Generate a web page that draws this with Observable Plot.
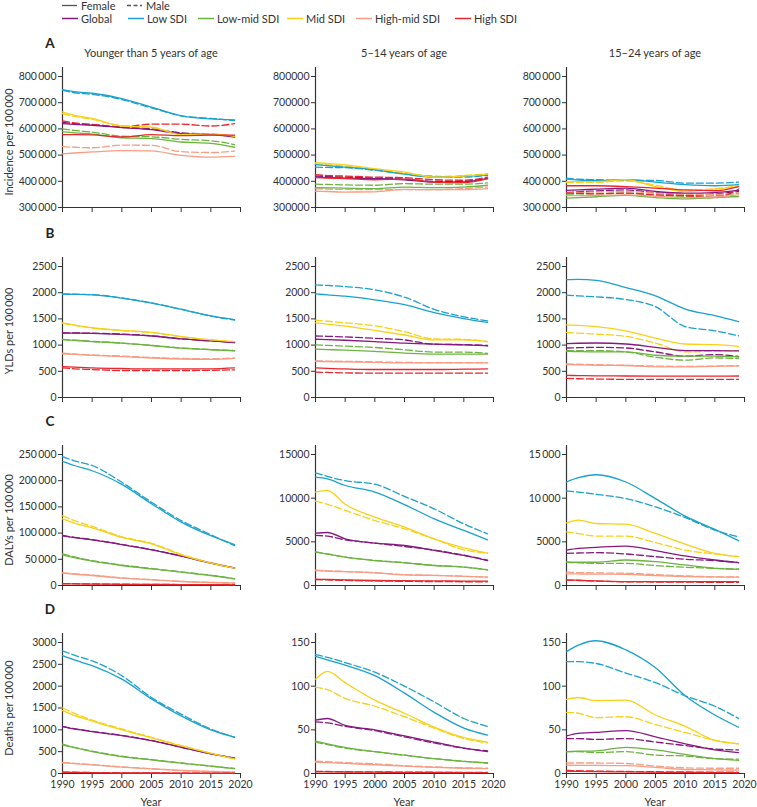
<!DOCTYPE html>
<html><head><meta charset="utf-8">
<script src="https://cdn.jsdelivr.net/npm/d3@7"></script>
<script src="https://cdn.jsdelivr.net/npm/@observablehq/plot@0.6"></script>
<style>
body{margin:0;background:#fff;font-family:Lato,"Noto Sans",sans-serif;color:#333;}
#fig{position:relative;width:757px;height:807px;overflow:hidden;}
.abs{position:absolute;white-space:nowrap;}
.c{transform:translate(-50%,-50%);}
</style></head>
<body><div id="fig"></div>
<script>
const years = [1990,1992,1995,2000,2005,2010,2015,2019];
const groups = ["Global","Low SDI","Low-mid SDI","Mid SDI","High-mid SDI","High SDI"];
const groupColors = ["#86197f","#1aa1cf","#6cb33f","#f7d117","#f79d84","#e8262d"];
const sexes = ["Female","Male"];
const xTicks = [1990,1995,2000,2005,2010,2015,2020];
const ageTitles = ["Younger than 5 years of age","5\u201314 years of age","15\u201324 years of age"];
const measureLabels = ["Incidence per 100\u2009000","YLDs per 100\u2009000","DALYs per 100\u2009000","Deaths per 100\u2009000"];
const panelLetters = ["A","B","C","D"];

// y ticks and labels
const incTicks = [300000,400000,500000,600000,700000,800000];
const incLabelsSp = ["300\u2009000","400\u2009000","500\u2009000","600\u2009000","700\u2009000","800\u2009000"];
const incLabelsNo = ["300000","400000","500000","600000","700000","800000"];
const yldTicks = [0,500,1000,1500,2000,2500];
const yldLabels = ["0","500","1000","1500","2000","2500"];
const dalyU5Ticks = [0,50000,100000,150000,200000,250000];
const dalyU5Labels = ["0","50\u2009000","100\u2009000","150\u2009000","200\u2009000","250\u2009000"];
const dalyTicks = [0,5000,10000,15000];
const dalyLabelsNo = ["0","5000","10000","15000"];
const dalyLabelsSp = ["0","5000","10\u2009000","15\u2009000"];
const deathU5Ticks = [0,500,1000,1500,2000,2500,3000];
const deathU5Labels = ["0","500","1000","1500","2000","2500","3000"];
const deathTicks = [0,50,100,150];
const deathLabels = ["0","50","100","150"];

// Series order: Global, Low, Low-mid, Mid, High-mid, High ; values at `years`
const incU5F = [
 [620000,617000,614000,605000,597000,582000,578000,569000],
 [750000,742000,736000,716000,683000,650000,638000,634000],
 [590000,585000,580000,566000,563000,550000,545000,530000],
 [665000,652000,640000,611000,607000,578000,581000,572000],
 [505000,508000,512000,517000,516000,499000,492000,495000],
 [578000,578000,577000,569000,578000,574000,576000,576000]];
const incU5M = [
 [625000,620000,616000,607000,600000,585000,580000,572000],
 [747000,738000,732000,712000,680000,650000,640000,632000],
 [600000,594000,588000,572000,570000,560000,555000,540000],
 [658000,648000,636000,612000,605000,580000,578000,570000],
 [532000,530000,528000,538000,537000,513000,510000,515000],
 [631000,623000,617000,608000,618000,618000,611000,620000]];
const inc514F = [
 [416000,414000,412000,410000,406000,397000,398000,410000],
 [464000,460000,454000,444000,427000,416000,419000,425000],
 [376000,375000,374000,372000,378000,376000,378000,385000],
 [471000,468000,463000,448000,435000,416000,420000,427000],
 [362000,361000,359000,360000,369000,368000,368000,372000],
 [414000,412000,410000,406000,408000,397000,395000,410000]];
const inc514M = [
 [420000,418000,416000,412000,408000,400000,400000,412000],
 [454000,453000,452000,442000,429000,419000,416000,423000],
 [389000,388000,386000,385000,391000,389000,389000,394000],
 [466000,463000,458000,445000,432000,418000,422000,429000],
 [371000,370000,369000,368000,368000,368000,372000,378000],
 [425000,422000,420000,416000,414000,406000,404000,416000]];
const inc1524F = [
 [365000,367000,370000,374000,361000,355000,357000,365000],
 [408000,405000,403000,406000,397000,387000,383000,387000],
 [336000,338000,341000,346000,338000,333000,338000,342000],
 [399000,399000,399000,406000,380000,361000,370000,380000],
 [345000,345000,346000,348000,343000,338000,340000,348000],
 [383000,383000,383000,380000,374000,367000,364000,380000]];
const inc1524M = [
 [357000,360000,363000,367000,356000,346000,352000,361000],
 [412000,408000,406000,403000,403000,393000,393000,397000],
 [351000,352000,353000,355000,348000,342000,345000,355000],
 [395000,395000,396000,402000,385000,366000,372000,382000],
 [355000,357000,359000,361000,355000,350000,350000,357000],
 [355000,354000,352000,355000,348000,345000,338000,370000]];

const yldU5F = [
 [1231,1228,1225,1206,1174,1118,1080,1049],
 [1972,1968,1960,1897,1802,1683,1557,1488],
 [1105,1090,1068,1036,992,942,911,892],
 [1425,1385,1331,1281,1243,1162,1099,1068],
 [835,822,804,779,754,735,728,747],
 [590,578,565,553,546,546,548,565]];
const yldU5M = [
 [1235,1232,1228,1210,1178,1120,1082,1050],
 [1975,1970,1962,1900,1805,1685,1552,1478],
 [1110,1094,1072,1040,995,945,915,895],
 [1415,1378,1325,1278,1240,1160,1098,1065],
 [845,830,812,790,765,745,738,755],
 [565,548,534,515,515,515,518,528]];
const yld514F = [
 [1112,1105,1093,1068,1036,1017,1005,986],
 [1978,1960,1934,1865,1771,1620,1507,1432],
 [923,915,904,879,848,829,829,829],
 [1425,1400,1363,1281,1193,1099,1099,1068],
 [691,685,680,672,659,659,659,659],
 [565,555,545,534,534,534,540,546]];
const yld514M = [
 [1174,1168,1156,1130,1099,1017,1010,992],
 [2148,2138,2116,2054,1915,1683,1539,1463],
 [1005,995,980,955,911,867,867,842],
 [1476,1455,1425,1369,1256,1118,1110,1068],
 [700,695,690,680,670,665,665,665],
 [484,478,470,465,465,465,465,465]];
const yld1524F = [
 [1027,1035,1040,1021,958,895,895,888],
 [2249,2255,2237,2098,1940,1688,1562,1449],
 [882,876,870,870,806,788,790,775],
 [1386,1375,1354,1273,1134,1021,1008,977],
 [630,622,615,611,586,586,595,599],
 [422,418,414,410,408,408,408,410]];
const yld1524M = [
 [945,950,958,945,870,788,819,782],
 [1953,1940,1921,1871,1733,1354,1273,1178],
 [895,895,895,870,769,712,756,744],
 [1241,1228,1210,1166,1040,870,885,895],
 [643,635,625,615,600,595,600,610],
 [365,358,352,347,347,347,347,347]];

const dalyU5F = [
 [94800,91500,87100,78200,68000,56000,42600,33000],
 [237000,229000,219000,193000,156000,121000,95000,78000],
 [58500,53000,46400,38200,31800,25400,19100,12700],
 [127000,119000,110000,92000,79500,58500,42600,33000],
 [23500,21500,19100,14000,10800,7600,5700,4500],
 [3200,3000,2700,2300,2000,1700,1500,1300]];
const dalyU5M = [
 [95500,92000,87500,78500,68500,56500,43000,33500],
 [246000,238000,229000,197000,159000,124000,97000,76000],
 [60500,54500,47500,39000,32500,26000,19500,13000],
 [133000,124000,113000,93000,80500,59500,43500,33500],
 [24500,22300,19800,14500,11200,7900,5900,4600],
 [3600,3400,3000,2500,2100,1800,1600,1400]];
const daly514F = [
 [5990,6070,5340,4850,4580,4010,3440,2860],
 [12400,12200,11450,10700,9270,7630,6300,5230],
 [3820,3600,3240,2860,2600,2290,2100,1790],
 [10700,10900,9300,7820,6680,5340,4310,3700],
 [1720,1650,1580,1450,1220,1150,1050,950],
 [725,690,640,570,550,530,510,500]];
const daly514M = [
 [5730,5650,5230,4850,4470,4050,3470,2900],
 [12900,12500,12000,11600,10200,8780,7060,5920],
 [3850,3620,3260,2880,2620,2310,2120,1800],
 [9660,9300,8590,7440,6490,5340,4080,3700],
 [1750,1680,1600,1470,1240,1160,1060,960],
 [680,640,590,520,480,450,430,420]];
const daly1524F = [
 [4060,4250,4370,4520,3990,3380,2920,2620],
 [11850,12340,12680,11850,9950,7940,6420,5130],
 [2660,2660,2660,2920,2730,2350,1970,1860],
 [7180,7480,7100,7020,5960,4750,3680,3300],
 [1330,1320,1310,1290,1140,1030,980,950],
 [650,600,540,455,450,440,440,440]];
const daly1524M = [
 [3680,3720,3760,3610,3300,3000,2850,2620],
 [10820,10700,10440,9950,9000,7780,6340,5580],
 [2660,2600,2540,2540,2280,2090,1970,1860],
 [6150,5950,5660,5660,4900,4060,3610,3300],
 [1520,1480,1440,1400,1250,1100,1000,980],
 [620,570,500,420,400,380,370,360]];

const deathU5F = [
 [1074,1020,960,868,754,601,449,350],
 [2700,2600,2470,2160,1710,1320,1000,830],
 [655,590,503,388,312,236,168,114],
 [1440,1330,1200,1000,815,630,460,335],
 [244,225,198,145,107,69,46,30],
 [30,26,20,14,11,9,8,8]];
const deathU5M = [
 [1080,1025,965,872,758,605,452,352],
 [2810,2710,2580,2240,1740,1360,1020,830],
 [670,600,512,395,318,240,170,115],
 [1500,1380,1225,1020,830,640,465,335],
 [252,232,204,150,110,71,47,31],
 [33,29,22,16,12,10,9,8]];
const death514F = [
 [61,63,55,50,43,36,29,25],
 [134,130,124,112,92,70,52,44],
 [37,34,30,25,21,17,14,12],
 [108,117,104,84,69,53,41,36],
 [13,12.5,11.5,10,8.5,7,6,5.5],
 [2,1.9,1.7,1.5,1.3,1.2,1.1,1]];
const death514M = [
 [59,58,54,49,42,35,29,26],
 [136,133,127,116,100,82,63,54],
 [36,33,29,25,21,17,14,12],
 [99,96,86,77,65,52,40,35],
 [14,13.5,12.5,11,9,7.5,6.5,6],
 [2.5,2.3,2,1.8,1.6,1.4,1.3,1.2]];
const death1524F = [
 [43,46,47,49,42,34,27,24],
 [139.6,147,152,141.5,121,89,67,53],
 [25,25.5,26,30,27,22,17,15],
 [85,87,83.5,84,67,54,38,34],
 [9.5,9.4,9.2,9,7,4.6,4.2,3.8],
 [2.7,2.5,2.2,1.8,1.5,1.2,1.1,1]];
const death1524M = [
 [40,40,39,40,36,32,28,27],
 [128,128,126,115,104,89,77,63],
 [25,25,24,25,21,20,17,16.5],
 [70,69,64,65,56,47,38,34],
 [12,12,12,11.5,8.5,6.5,6,6],
 [3.5,3.2,2.8,2.3,2,1.7,1.5,1.4]];

// ---------- layout ----------
const fig = document.getElementById("fig");
const FONT = "Lato, 'Noto Sans', sans-serif";
const axisLeft = [62, 315, 566];
const plotW = 178;
const plotH = 140;
const rowBottom = [207, 396.5, 585, 773];
const ext = 140/131;
const mL = 58, mR = 4, mT = 2, mB = 30;

function addText(txt, x, y, style) {
  const d = document.createElement("div");
  d.className = "abs c";
  d.textContent = txt;
  d.style.left = x + "px"; d.style.top = y + "px";
  Object.assign(d.style, style || {});
  fig.appendChild(d);
  return d;
}

const panels = [
 [ {F:incU5F,M:incU5M,lo:300000,top:800000,ticks:incTicks,labels:incLabelsSp},
   {F:inc514F,M:inc514M,lo:300000,top:800000,ticks:incTicks,labels:incLabelsNo},
   {F:inc1524F,M:inc1524M,lo:300000,top:800000,ticks:incTicks,labels:incLabelsSp} ],
 [ {F:yldU5F,M:yldU5M,lo:0,top:2500,ticks:yldTicks,labels:yldLabels},
   {F:yld514F,M:yld514M,lo:0,top:2500,ticks:yldTicks,labels:yldLabels},
   {F:yld1524F,M:yld1524M,lo:0,top:2500,ticks:yldTicks,labels:yldLabels} ],
 [ {F:dalyU5F,M:dalyU5M,lo:0,top:250000,ticks:dalyU5Ticks,labels:dalyU5Labels},
   {F:daly514F,M:daly514M,lo:0,top:15000,ticks:dalyTicks,labels:dalyLabelsNo},
   {F:daly1524F,M:daly1524M,lo:0,top:15000,ticks:dalyTicks,labels:dalyLabelsSp} ],
 [ {F:deathU5F,M:deathU5M,lo:0,top:3000,ticks:deathU5Ticks,labels:deathU5Labels},
   {F:death514F,M:death514M,lo:0,top:150,ticks:deathTicks,labels:deathLabels},
   {F:death1524F,M:death1524M,lo:0,top:150,ticks:deathTicks,labels:deathLabels} ]
];

function toRows(arr) {
  return groups.flatMap((g, gi) => years.map((yr, i) => ({year: yr, value: arr[gi][i], group: g})));
}

panels.forEach((row, r) => {
  row.forEach((p, c) => {
    const hi = p.lo + (p.top - p.lo) * ext;
    const svg = Plot.plot({
      width: mL + plotW + mR,
      height: mT + plotH + mB,
      marginLeft: mL, marginRight: mR, marginTop: mT, marginBottom: mB,
      x: {domain: [1990, 2020]},
      y: {domain: [p.lo, hi]},
      color: {domain: groups, range: groupColors},
      style: {fontFamily: FONT, fontSize: "10.5px", color: "#333", background: "transparent", overflow: "visible"},
      marks: [
        Plot.axisX({ticks: xTicks, tickSize: 5, tickPadding: 2, label: null, fontSize: 10.5,
          tickFormat: r === 3 ? (d => String(d)) : (() => "")}),
        Plot.axisY({ticks: p.ticks, tickSize: 4, tickPadding: 2, label: null,
          tickFormat: d => p.labels[p.ticks.indexOf(d)]}),
        Plot.ruleX([1990], {stroke: "#333", strokeWidth: 1.2}),
        Plot.ruleY([p.lo], {stroke: "#333", strokeWidth: 1.2}),
        Plot.line(toRows(p.M), {x: "year", y: "value", z: "group", stroke: "group",
          strokeWidth: 1.3, strokeDasharray: "7,3", curve: "monotone-x"}),
        Plot.line(toRows(p.F), {x: "year", y: "value", z: "group", stroke: "group",
          strokeWidth: 1.3, curve: "monotone-x"})
      ]
    });
    svg.style.position = "absolute";
    svg.style.left = (axisLeft[c] - mL) + "px";
    svg.style.top = (rowBottom[r] - plotH - mT) + "px";
    fig.appendChild(svg);
  });
  // y axis title (first column only)
  const tickTopY = rowBottom[r] - 131;
  addText(measureLabels[r], 8, (tickTopY + rowBottom[r]) / 2,
    {fontFamily: FONT, fontSize: "11px", transform: "translate(-50%,-50%) rotate(-90deg)"});
  // panel letter
  addText(panelLetters[r], 50, rowBottom[r] - 164, {fontFamily: FONT, fontSize: "13.5px", fontWeight: "bold", color: "#222"});
});

// column titles
ageTitles.forEach((t, c) => addText(t, axisLeft[c] + plotW / 2, 52, {fontFamily: FONT, fontSize: "11px"}));
// x axis title
axisLeft.forEach(x => addText("Year", x + plotW / 2, 801, {fontFamily: FONT, fontSize: "11px"}));

// legend
const legend = d3.create("svg").attr("width", 757).attr("height", 26)
  .style("position", "absolute").style("left", "0px").style("top", "0px")
  .style("font-family", FONT).style("font-size", "11px");
const sexItems = [{x: 62, dash: null}, {x: 127, dash: "4,2.5"}];
sexes.forEach((s, i) => {
  const it = sexItems[i];
  legend.append("line").attr("x1", it.x).attr("x2", it.x + 15).attr("y1", 5.5).attr("y2", 5.5)
    .attr("stroke", "#555").attr("stroke-width", 1.3).attr("stroke-dasharray", it.dash);
  legend.append("text").attr("x", it.x + 19).attr("y", 9.5).attr("fill", "#333").text(s);
});
const legX = [62, 128, 198, 287, 356, 455];
groups.forEach((g, i) => {
  legend.append("line").attr("x1", legX[i]).attr("x2", legX[i] + 16).attr("y1", 18.5).attr("y2", 18.5)
    .attr("stroke", groupColors[i]).attr("stroke-width", 1.5);
  legend.append("text").attr("x", legX[i] + 19).attr("y", 22.5).attr("fill", "#333").text(g);
});
fig.appendChild(legend.node());
</script>
</body></html>
